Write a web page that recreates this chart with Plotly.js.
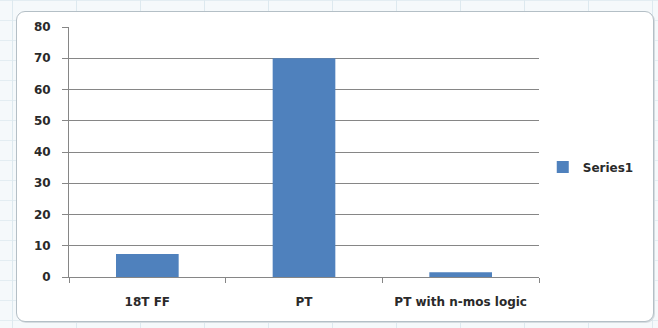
<!DOCTYPE html>
<html>
<head>
<meta charset="utf-8">
<script src="https://cdn.plot.ly/plotly-3.0.1.min.js"></script>
<style>
  html, body { margin: 0; padding: 0; }
  body {
    width: 658px; height: 328px; overflow: hidden; position: relative;
    background-color: #f5f9fb;
    background-image:
      linear-gradient(to right, #dde9ef 1px, transparent 1px),
      linear-gradient(to bottom, #e3edf2 1px, transparent 1px);
    background-size: 64px 20px;
    background-position: 12px 0px;
  }
  #frame {
    position: absolute; left: 16px; top: 11px; width: 636px; height: 309px;
    background: #ffffff; border: 1px solid #b4bfc6; border-radius: 9px;
    box-shadow: 1px 1px 0 #d6dde1;
  }
  #chart { position: absolute; left: 0; top: 0; width: 658px; height: 328px; }
</style>
</head>
<body>
<div id="frame"></div>
<div id="chart"></div>
<script>
// Chart data
const categories = ["18T FF", "PT", "PT with n-mos logic"];
const series1 = [7.4, 70, 1.5];
const yTicks = [0, 10, 20, 30, 40, 50, 60, 70, 80];

const labelFont = { family: "DejaVu Sans", size: 12, color: "#2a2a2a", weight: "bold" };

const trace = {
  type: "bar",
  name: "Series1",
  x: categories,
  y: series1,
  marker: { color: "#4f81bd", line: { width: 0 } },
  hoverinfo: "x+y"
};

const layout = {
  width: 658,
  height: 328,
  margin: { l: 69, r: 118.5, t: 27, b: 51, pad: 0, autoexpand: false },
  paper_bgcolor: "rgba(0,0,0,0)",
  plot_bgcolor: "rgba(0,0,0,0)",
  bargap: 0.6,
  showlegend: true,
  legend: {
    x: 1.008, y: 0.44, xanchor: "left", yanchor: "middle",
    font: labelFont,
    bgcolor: "rgba(0,0,0,0)",
    itemwidth: 30
  },
  xaxis: {
    type: "category",
    showline: true, linecolor: "#868686", linewidth: 1,
    ticks: "outside", tickson: "boundaries", ticklen: 5, tickcolor: "#868686",
    showgrid: false, zeroline: false,
    tickfont: labelFont,
    ticklabelstandoff: 14
  },
  yaxis: {
    range: [0, 80],
    tickvals: yTicks,
    ticktext: yTicks.map(String),
    showline: true, linecolor: "#868686", linewidth: 1,
    ticks: "outside", ticklen: 6, tickcolor: "#868686",
    showgrid: true, gridcolor: "#868686", gridwidth: 1,
    zeroline: false,
    tickfont: labelFont,
    ticklabelstandoff: 9
  }
};

Plotly.newPlot("chart", [trace], layout, { displayModeBar: false, staticPlot: true });
</script>
</body>
</html>
